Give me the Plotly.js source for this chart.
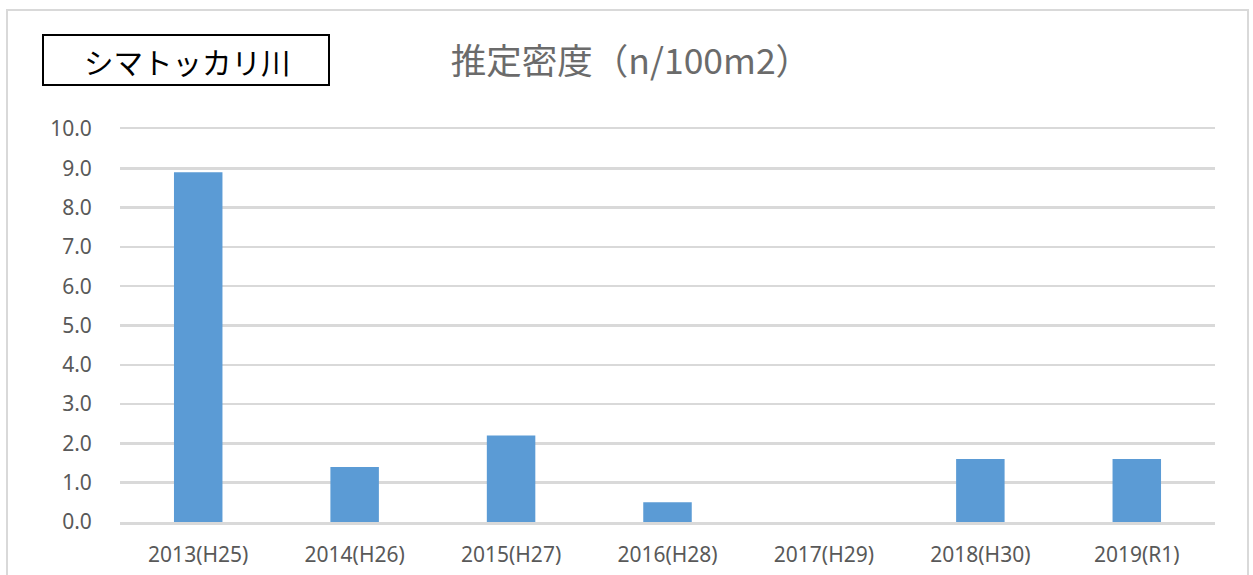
<!DOCTYPE html>
<html><head><meta charset="utf-8">
<script src="https://cdn.plot.ly/plotly-3.0.1.min.js"></script>
<style>body{margin:0;background:#fff}#chart{width:1253px;height:575px}</style>
</head><body><div id="chart"></div>
<script>
const categories = ["2013(H25)","2014(H26)","2015(H27)","2016(H28)","2017(H29)","2018(H30)","2019(R1)"];
const density = [8.9, 1.4, 2.2, 0.5, 0, 1.6, 1.6];
const yTicks = [0,1,2,3,4,5,6,7,8,9,10];
const chartTitle = "推定密度（n/100m2）";
const riverName = "シマトッカリ川";

const L=120, R=38, T=129, B=53, W=1253, H=575;
const pw = W-L-R, ph = H-T-B;
const px = v => (v-L)/pw;
const py = v => (H-B-v)/ph;

const trace = {
  type:'bar', x:categories, y:density,
  marker:{color:'#5b9bd5'}, hoverinfo:'x+y'
};
const layout = {
  width:W, height:H,
  margin:{l:L, r:R, t:T, b:B, pad:0},
  paper_bgcolor:'#fff', plot_bgcolor:'#fff',
  bargap:0.69,
  font:{family:'"Noto Sans", "Noto Sans CJK JP", sans-serif', color:'#595959', size:16},
  title:{text:chartTitle, x:631/W, xref:'container', xanchor:'center', y:1-62/H, yref:'container', yanchor:'middle',
         font:{family:'"Noto Sans CJK JP", sans-serif', size:35.5, color:'#6b6b6b'}},
  xaxis:{type:'category', showgrid:false, zeroline:false, showline:true, mirror:true, linecolor:'#d9d9d9', linewidth:2.5,
         ticks:'outside', ticklen:12, tickcolor:'rgba(0,0,0,0)', tickfont:{size:21, color:'#595959'}},
  yaxis:{range:[0,10], tickvals:yTicks, tickformat:'.1f', showgrid:true, gridcolor:'#d9d9d9', gridwidth:2.5,
         zeroline:false, showline:false, ticks:'outside', ticklen:23, tickcolor:'rgba(0,0,0,0)',
         tickfont:{size:21, color:'#595959'}},
  shapes:[
    {type:'rect', xref:'paper', yref:'paper', x0:px(7), x1:px(1248), y0:py(585), y1:py(10),
     line:{color:'#d9d9d9', width:2}, fillcolor:'rgba(0,0,0,0)', layer:'below'},
    {type:'rect', xref:'paper', yref:'paper', x0:px(43), x1:px(329), y0:py(85), y1:py(35),
     line:{color:'#000', width:2}, fillcolor:'#fff'}
  ],
  annotations:[
    {text:riverName, xref:'paper', yref:'paper', x:px(187), y:py(61), xanchor:'center', yanchor:'middle',
     showarrow:false, font:{family:'"Noto Sans CJK JP", sans-serif', size:29.5, color:'#000'}}
  ]
};
Plotly.newPlot('chart',[trace],layout,{displayModeBar:false,staticPlot:true});
</script></body></html>
